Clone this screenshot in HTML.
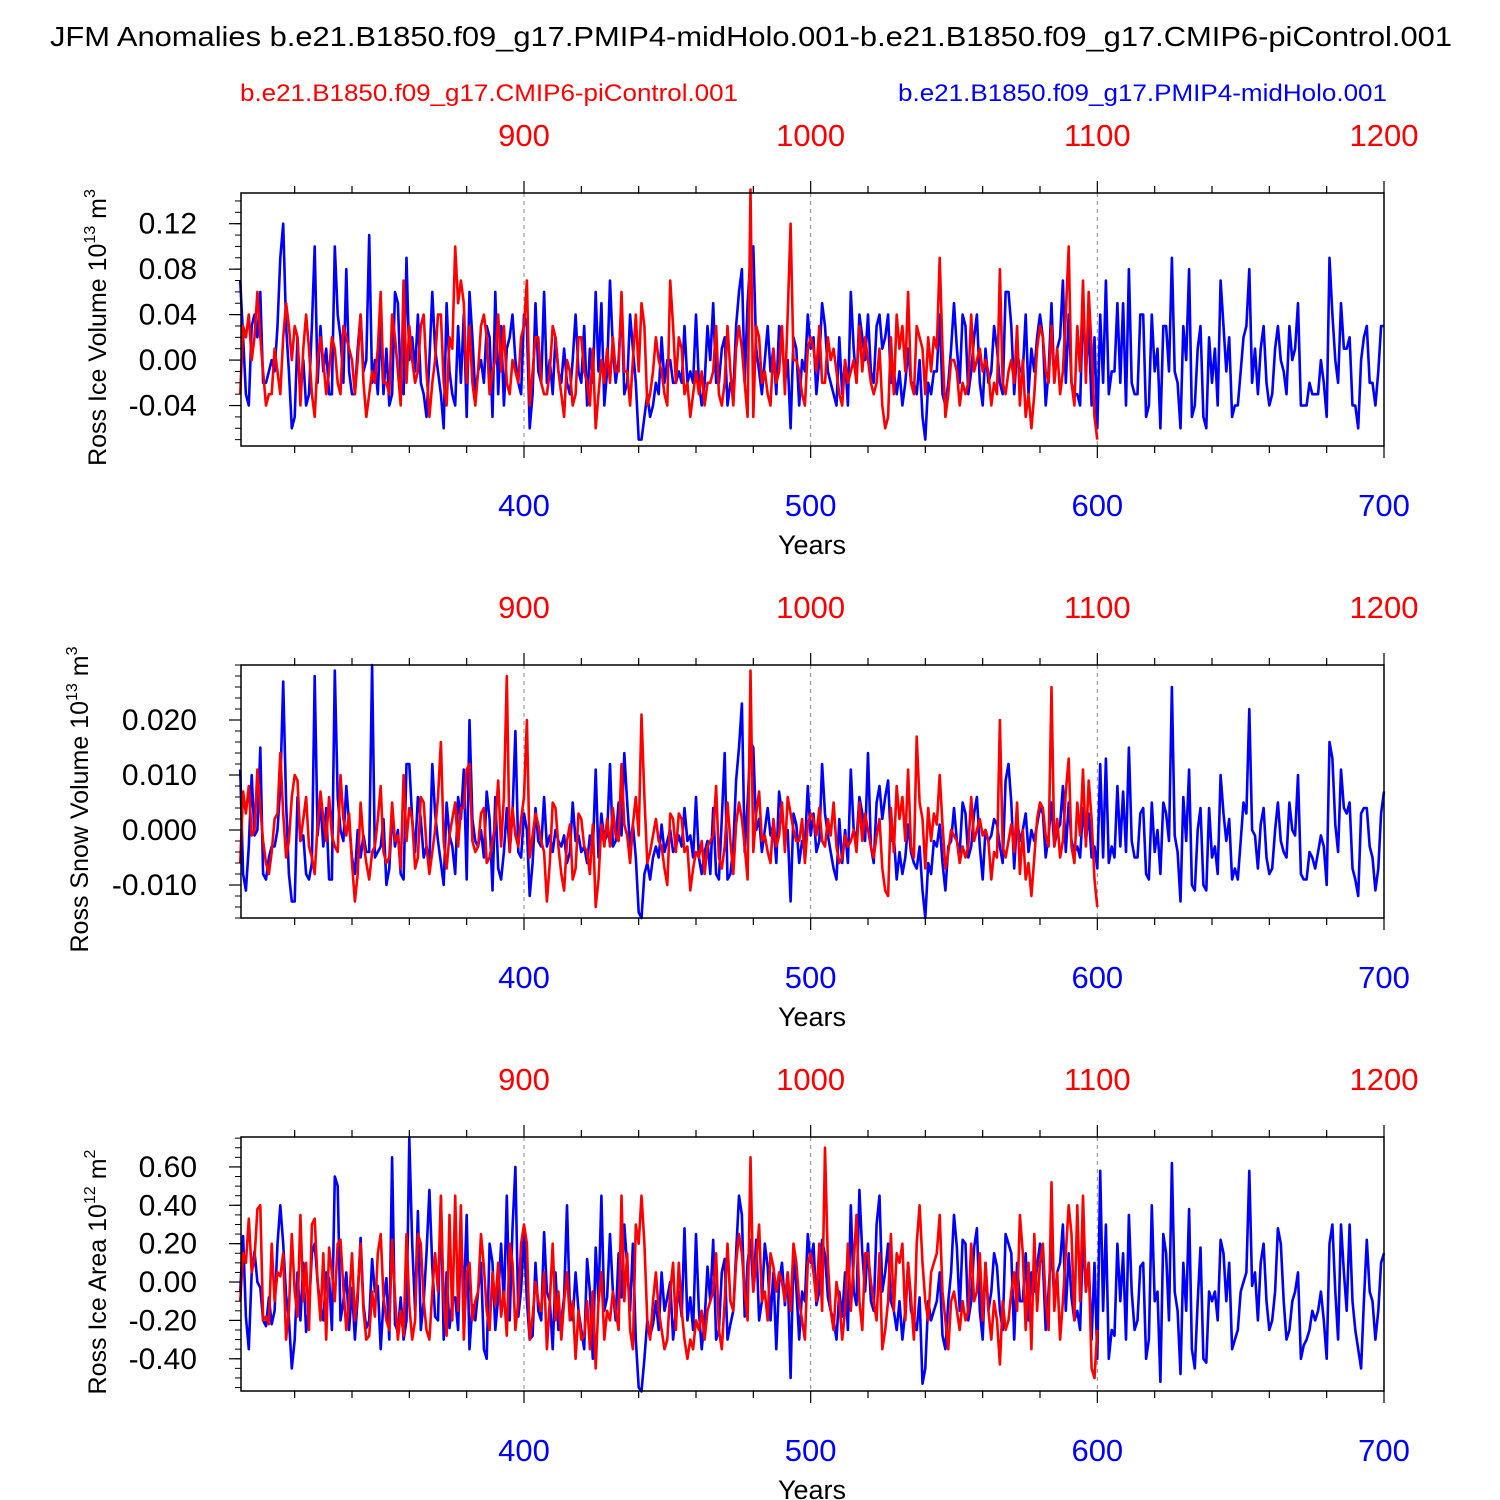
<!DOCTYPE html>
<html><head><meta charset="utf-8"><style>
html,body{margin:0;padding:0;background:#fff;}
svg{display:block;font-family:"Liberation Sans",Arial,sans-serif;}
</style></head><body>
<svg id="chart" width="1500" height="1500" viewBox="0 0 1500 1500" xmlns="http://www.w3.org/2000/svg">
<text x="50" y="46" font-size="28" textLength="1402" lengthAdjust="spacingAndGlyphs">JFM Anomalies b.e21.B1850.f09_g17.PMIP4-midHolo.001-b.e21.B1850.f09_g17.CMIP6-piControl.001</text>
<text x="240" y="101" font-size="24" fill="#ff0000" textLength="498" lengthAdjust="spacingAndGlyphs">b.e21.B1850.f09_g17.CMIP6-piControl.001</text>
<text x="898" y="101" font-size="24" fill="#0000ff" textLength="489" lengthAdjust="spacingAndGlyphs">b.e21.B1850.f09_g17.PMIP4-midHolo.001</text>
</svg>
<script>
// ---- data (year axes) ----
const blueYearStart = 301;
const redYearStart = 801;
const bottomTicks = [400, 500, 600, 700];
const topTicks = [900, 1000, 1100, 1200];

// Panel 1: Ross Ice Volume (units of 0.01 x 10^13 m^3)
const iceVolBlue = [7,2,-3,-4,3,4,2,6,-2,-2,-1,0,-1,3,9,12,3,-1,-6,-5,
2,-3,0,-4,-3,3,10,-2,3,-1,1,-3,-3,10,4,2,-2,8,-1,-3,
-3,1,4,-1,0,11,-2,0,-3,3,-3,1,-4,-3,6,5,-2,-3,9,0,
2,-1,4,-2,-3,-5,0,6,1,-1,-3,-6,5,-1,-3,-4,3,-2,4,-5,
6,2,-3,-1,0,-2,3,2,-5,6,-3,3,-4,1,2,4,0,-2,-3,4,
3,-6,-3,5,-1,-2,6,-2,0,-3,2,-1,-2,1,-2,-3,0,4,-1,-2,
3,-4,1,-2,6,-1,5,-4,-1,7,1,-2,0,5,-3,-2,4,1,-2,-7,
-7,-5,-3,-5,-4,-2,-3,2,-2,0,0,-2,-2,-1,-2,3,-2,-1,-2,4,
-2,-4,-2,3,0,5,-2,-2,1,2,-4,-2,-3,3,6,8,-2,5,9,10,
1,-1,-3,0,3,-1,1,-3,3,2,-2,0,-6,2,1,-4,0,-1,4,1,
2,-3,0,5,3,-1,-2,-3,-4,2,-3,0,-4,6,1,-2,4,2,0,4,
-1,-2,3,4,1,2,4,-2,-1,-3,-1,-4,-2,1,-2,-2,-3,0,-5,-7,
-2,-3,-1,-1,4,-3,-4,-2,1,5,1,-2,4,3,-3,-1,2,4,-2,-4,
1,-2,-1,3,1,-2,-3,6,6,3,-3,1,-1,-1,4,-3,1,-1,2,4,
2,-4,-1,5,-2,1,2,7,-2,4,-2,-3,-3,-4,5,-1,3,-4,2,-6,
4,-2,7,-3,-1,-1,5,-2,5,-4,8,-2,-3,-3,4,4,-5,-4,4,-1,
1,-6,3,3,-1,9,-1,-2,-6,3,0,8,-5,-4,1,3,-5,-6,2,-2,
1,-4,7,3,-1,2,-5,-4,-4,-1,2,3,8,-2,1,-3,1,3,-2,-4,
-3,1,3,0,-1,-3,3,0,1,5,-4,-4,-4,-2,-3,-3,-3,0,-2,-5,
9,4,0,-2,5,1,1,2,-4,-4,-6,0,2,3,-2,-2,-4,-1,3,3];
const iceVolRed = [-3,3,2,4,0,2,6,2,-1,-4,-3,-3,1,-1,-3,2,5,3,0,3,
2,-4,1,4,1,-3,-5,0,2,0,-3,-1,2,1,-2,-3,3,2,1,0,
-3,0,4,-2,-5,-3,-1,-2,1,6,-2,-2,-3,4,2,-1,-4,7,-2,3,
0,-2,-1,3,4,-1,-5,-2,0,4,4,-2,-4,2,1,10,5,7,5,-2,
3,-2,-4,-1,3,4,2,-3,-1,0,4,-1,3,-2,-3,0,-1,-2,2,3,
7,-4,-1,2,2,-2,-3,-3,-1,3,2,-1,-3,-5,0,-1,-4,-3,2,2,
-1,-2,-4,1,-6,-3,0,-2,1,-2,2,-1,-1,6,-1,-1,-4,0,4,-1,
5,3,-4,-3,-1,2,0,-1,-3,-4,7,3,-2,2,1,-3,-2,-5,-3,-1,
-3,-1,-4,-2,-2,-1,3,-3,-4,-2,3,-1,-4,1,3,1,-2,-5,15,-5,
3,2,-2,-1,-3,-4,1,-2,-1,3,-3,4,12,0,0,-1,-3,-4,1,2,
1,-1,3,-2,-2,2,0,1,-1,-3,-4,0,-2,-1,0,-2,3,-1,2,0,
-2,-3,-2,1,-4,-6,-5,2,-3,4,1,3,-1,6,-2,-3,3,2,1,-3,
2,-1,2,1,9,1,-5,-3,0,0,-1,-4,-2,-3,-2,4,-1,0,1,-1,
0,-1,-4,-2,-3,8,-2,-3,-1,0,-2,3,-4,0,-5,-3,-6,-3,1,3,
2,-1,-2,3,-2,1,-3,-1,4,10,-2,-4,3,-1,7,-2,6,1,-5,-7];

// Panel 2: Ross Snow Volume (units of 0.001 x 10^13 m^3)
const snowVolBlue = [11,-8,-11,-3,10,-1,0,15,-8,-9,-5,-3,-3,0,8,27,5,-8,-13,-13,
6,-2,-1,-8,-9,-6,28,-1,5,-3,4,-9,-9,29,6,0,-2,8,1,-5,
-8,0,-5,-1,-4,-4,30,-5,-4,-3,2,-10,-7,3,-3,0,-8,-9,12,12,
2,-4,6,2,-5,-3,-6,12,3,-2,-6,-10,5,-1,-3,-8,6,2,11,-9,
20,2,-2,-3,0,-5,7,2,-11,6,-7,-9,-4,4,-4,3,18,-4,-5,3,
0,-12,-6,4,-2,-3,6,-3,-1,-4,0,-2,-3,-1,-6,-4,5,-2,-1,-4,
-3,-6,-1,-4,11,-5,3,-2,-1,12,-3,-2,5,-1,14,5,-3,1,-5,-15,
-16,-8,-6,-9,-5,-3,-5,1,-4,-2,0,-4,-3,-1,-3,4,-2,-1,-5,6,
-5,-8,-4,-2,-8,4,-8,-9,2,14,-9,-8,-3,9,15,23,-4,5,16,15,
0,2,-4,0,4,-1,1,-6,7,3,-2,0,-13,3,1,-6,-2,-3,8,-1,
3,-4,-2,12,3,-1,-4,-7,-9,2,-6,0,-6,11,0,-2,6,3,-2,14,
-3,-6,5,8,2,6,9,-2,-1,-9,-4,-8,-5,1,-4,-6,-7,-3,-11,-16,
-6,-8,-2,-3,1,-6,-11,-3,-2,4,-2,-4,5,3,-5,-3,3,6,-3,-9,
0,-2,-1,2,1,-3,-6,9,12,5,-7,2,-2,0,3,-4,0,-2,1,4,
3,-5,-1,5,-3,0,1,8,-4,5,-2,-4,-3,-5,4,-2,3,-5,-3,-7,
12,-5,13,-6,-3,-5,8,-3,7,-4,15,-2,-5,-5,3,4,-8,-9,5,-4,
0,-8,5,3,-2,26,-1,-4,-13,6,-2,11,-10,-11,0,4,-10,-11,4,-5,
-3,-8,10,3,-2,2,-9,-7,-9,-2,5,3,22,0,-1,-7,1,4,-5,-8,
-7,0,5,-2,-4,-5,5,0,-1,10,-8,-9,-9,-4,-5,-7,-4,-1,-3,-10,
16,13,1,-4,11,4,3,5,-7,-9,-12,3,4,4,-3,-5,-11,-7,3,7];
const snowVolRed = [-6,7,3,8,-1,0,11,4,-2,-6,-8,-4,2,3,14,3,-5,-2,6,10,
9,-2,2,6,-3,-5,-8,1,7,2,-2,6,-1,-3,-4,10,2,-1,3,-6,
-13,-8,5,-2,-6,-9,-4,-3,2,8,-4,-6,-5,5,-2,-1,-7,10,-2,4,
2,-7,-5,6,5,-3,-8,-4,0,6,16,-2,-7,-1,2,5,-3,4,4,11,
12,-2,-4,-3,3,4,-6,-5,-2,1,9,-3,6,28,-4,4,-1,-3,2,6,
20,-5,-1,3,1,-2,-4,-13,-6,5,4,-3,-8,-11,-2,1,-9,-7,3,2,
-3,-4,-8,1,-14,-9,1,-3,2,-3,4,-1,-2,12,1,-1,-6,1,6,-1,
21,6,-6,-4,-1,2,-2,-3,-7,-10,3,2,-4,3,2,-4,-3,-11,-7,-4,
-5,-2,-8,-3,-2,-1,8,-5,-7,-3,5,-2,-8,1,5,2,-3,-9,29,-4,
3,7,-2,-1,-4,-6,2,-3,-1,5,-4,6,3,0,-2,-2,2,-6,1,3,
2,-1,4,-2,-3,2,-1,5,-3,-6,-5,-1,-3,-2,0,-4,5,-2,3,0,
-3,-5,-1,2,-7,-11,-12,4,-4,8,2,6,-2,11,-3,-5,17,5,2,-7,
4,-2,3,1,10,1,-7,-4,0,-1,-2,-6,-3,-5,-3,6,-2,0,2,-1,
0,-2,-9,-4,-5,20,-3,-5,-2,1,-4,5,-8,0,-9,-6,-12,-5,2,5,
4,-1,-3,26,-3,2,-5,-2,7,13,-3,-6,5,-1,11,-3,9,2,-9,-14];

// Panel 3: Ross Ice Area (units of 0.01 x 10^12 m^2)
const iceAreaBlue = [-5,24,-18,-35,5,16,0,-3,-20,-23,-8,-22,-15,20,40,20,-7,-19,-45,-30,
5,-20,10,-26,-14,15,20,0,-13,-20,5,2,-25,55,50,-20,-10,5,-25,-3,
-30,-8,23,-12,-24,-20,12,-5,-2,-35,-10,2,-30,65,-22,-26,-8,-30,-20,75,
20,-15,37,-25,-10,15,48,8,-18,-20,44,-30,5,-24,-10,-8,-25,25,-10,35,
-35,-12,-20,-5,10,-35,-40,20,10,-25,-8,20,-12,45,-20,28,60,-18,-4,25,
-10,-30,-28,10,-15,-20,26,-5,-10,-35,5,-25,-20,-8,40,-15,-20,5,-15,-25,
-35,12,-5,-40,18,-10,45,-15,-8,25,-5,-20,15,-8,30,8,-15,20,-30,-55,
-57,-40,-20,-28,-22,-10,-25,5,-15,-8,0,-30,-15,-5,-18,28,-20,-8,-25,25,
-15,-35,-20,8,-10,22,-30,-25,5,12,-30,-22,-15,15,45,35,-18,10,22,-5,
22,-20,-10,20,8,-20,5,-35,0,10,-12,5,-50,15,-3,-30,-5,-10,25,10,
20,-12,-5,22,14,-8,-15,-20,-30,-5,-18,5,-25,40,-5,-12,48,15,-5,20,
-10,-15,30,45,-5,5,20,-10,-15,-25,-10,-30,-15,10,-15,-20,-25,-8,-53,-45,
-10,-20,-15,-10,5,-28,-35,-10,5,35,18,-15,22,20,-20,-10,18,28,-15,-30,
10,-15,-5,15,8,-15,-25,25,20,15,-30,10,-10,-10,15,-20,5,-5,8,20,
10,-25,-5,20,-10,5,10,30,-15,15,-8,-20,-15,-25,25,-5,10,-30,10,-40,
58,-15,30,-40,-25,-28,20,-10,15,-30,35,-5,-25,-20,8,10,-40,-30,40,-10,
-5,-52,25,15,-20,62,-5,-15,-48,10,-15,38,-35,-45,-10,18,-40,-42,-5,-10,
-5,-20,22,15,-10,10,-35,-30,-25,-5,0,5,58,-2,5,-20,10,20,-10,-25,
-20,-5,28,20,-10,-30,-25,-10,-5,5,-40,-33,-30,-25,-15,-20,-15,-5,-20,-40,
20,30,-5,-30,30,5,-15,30,-10,-25,-35,-45,-10,22,-5,-10,-30,-15,10,15];
const iceAreaRed = [-10,15,10,33,5,12,38,40,-20,-18,-22,20,-10,5,3,15,-30,-15,25,-5,
-18,35,-10,10,-25,30,33,0,-20,15,-30,18,5,-10,20,22,-3,-25,-10,15,
-20,-5,20,-15,-30,-28,-5,-18,15,25,-8,-20,-25,22,-8,-30,-15,-28,25,-12,
-30,-20,25,20,-10,-25,-30,-5,15,-5,45,-10,-28,35,-20,45,-15,40,-30,5,
10,-20,-10,-5,25,8,-15,-25,5,-12,10,-18,-5,-28,20,10,-25,-10,20,30,
20,-30,-18,0,-10,-15,5,-35,-10,20,-20,-5,-30,-10,5,-20,-10,-40,-15,-30,
-28,-10,-35,-5,-45,-10,5,-30,-15,-20,-5,-15,-25,45,-10,15,-25,-35,30,20,
45,20,-20,-30,-10,5,-15,-25,-35,-30,-5,10,-25,10,-15,-30,-40,-30,-35,-20,
-25,-15,-30,-15,-10,-5,15,-25,-35,-10,20,-10,-15,10,25,15,-5,-20,65,-5,
10,30,-10,-5,-20,15,8,-5,5,0,-10,5,-15,20,10,-10,-20,-30,10,15,
5,-10,20,-15,70,10,-15,-25,0,-10,-30,-15,20,-15,10,35,-10,-25,15,15,
0,-10,-20,15,-35,-25,-10,25,-15,15,10,20,-20,10,-8,-30,20,40,10,-10,
-20,5,10,15,35,-5,-20,-35,-10,-5,-15,-25,-10,-20,-15,20,-10,-5,15,-20,
10,-15,-30,-10,-20,-43,-10,-25,-20,-5,5,-15,35,15,-25,10,-35,25,-15,10,
20,-10,-25,52,-15,5,-30,-10,15,40,25,-20,40,-10,45,-5,10,-45,-50,-25];

const tickLabels1 = ["0.12","0.08","0.04","0.00","-0.04"];
const tickValues1 = [0.12,0.08,0.04,0.00,-0.04];
const tickLabels2 = ["0.020","0.010","0.000","-0.010"];
const tickValues2 = [0.02,0.01,0.0,-0.01];
const tickLabels3 = ["0.60","0.40","0.20","0.00","-0.20","-0.40"];
const tickValues3 = [0.6,0.4,0.2,0,-0.2,-0.4];

// ---- rendering ----
const NS = "http://www.w3.org/2000/svg";
const svg = document.getElementById('chart');
const X0 = 241, X1 = 1384;
const pxPerYear = (1384 - 524) / 300;
function xBlue(y){ return 524 + (y - 400) * pxPerYear; }
function xRed(y){ return 524 + (y - 900) * pxPerYear; }
function mk(tag, attrs, parent){ const e = document.createElementNS(NS, tag); for (const k in attrs) e.setAttribute(k, attrs[k]); (parent||svg).appendChild(e); return e; }

const panels = [
 {top:193,bot:446,vmin:-0.0756,vmax:0.147,blue:iceVolBlue,red:iceVolRed,scale:0.01,labels:tickLabels1,vals:tickValues1,minor:0.01,title:'Ross Ice Volume 10',sup:'13',unit:' m',usup:'3',tx:106,name:'ice-volume'},
 {top:665,bot:918,vmin:-0.016,vmax:0.030,blue:snowVolBlue,red:snowVolRed,scale:0.001,labels:tickLabels2,vals:tickValues2,minor:0.002,title:'Ross Snow Volume 10',sup:'13',unit:' m',usup:'3',tx:88,name:'snow-volume'},
 {top:1137,bot:1391,vmin:-0.568,vmax:0.756,blue:iceAreaBlue,red:iceAreaRed,scale:0.01,labels:tickLabels3,vals:tickValues3,minor:0.05,title:'Ross Ice Area 10',sup:'12',unit:' m',usup:'2',tx:106,name:'ice-area'}
];

panels.forEach((p) => {
  const g = mk('g', {});
  
  
  const yS = v => p.bot - (v - p.vmin) / (p.vmax - p.vmin) * (p.bot - p.top);
  topTicks.slice(0,3).forEach(t => {
    const l = mk('line', {x1:xRed(t), x2:xRed(t), y1:p.top, y2:p.bot, stroke:'#888', 'stroke-width':1, 'stroke-dasharray':'4,4'}, g);
    
    
  });
  const ptsB = p.blue.map((v,i) => xBlue(blueYearStart+i).toFixed(1)+','+yS(v*p.scale).toFixed(1)).join(' ');
  const lb = mk('polyline', {points:ptsB, fill:'none', stroke:'#0000ff', 'stroke-width':2.6, 'stroke-linejoin':'round'}, g);
  
  
  const ptsR = p.red.map((v,i) => xRed(redYearStart+i).toFixed(1)+','+yS(v*p.scale).toFixed(1)).join(' ');
  const lr = mk('polyline', {points:ptsR, fill:'none', stroke:'#ff0000', 'stroke-width':2.6, 'stroke-linejoin':'round'}, g);
  
  
  const fr = mk('rect', {x:X0, y:p.top, width:X1-X0, height:p.bot-p.top, fill:'none', stroke:'#000', 'stroke-width':1.5}, g);
  
  
  for (let y = 320; y <= 700; y += 20) {
    const x = xBlue(y), major = y % 100 === 0;
    mk('line', {x1:x, x2:x, y1:p.bot, y2:p.bot + (major?12:7), stroke:'#000', 'stroke-width':1.2}, g);
  }
  for (let y = 820; y <= 1200; y += 20) {
    const x = xRed(y), major = y % 100 === 0;
    mk('line', {x1:x, x2:x, y1:p.top, y2:p.top - (major?12:7), stroke:'#000', 'stroke-width':1.2}, g);
  }
  bottomTicks.forEach(t => {
    const tl = mk('text', {x:xBlue(t), y:p.bot+70, 'font-size':31, fill:'#0000ff', 'text-anchor':'middle'}, g);
    tl.textContent = t;
    
    
  });
  topTicks.forEach(t => {
    const tl = mk('text', {x:xRed(t), y:p.top-47, 'font-size':31, fill:'#ff0000', 'text-anchor':'middle'}, g);
    tl.textContent = t;
    
    
  });
  const xt = mk('text', {x:812, y:p.bot+108, 'font-size':27, 'text-anchor':'middle'}, g);
  xt.textContent = 'Years';
  
  
  const step = p.minor;
  for (let k = Math.ceil(p.vmin/step); k*step <= p.vmax; k++) {
    const yy = yS(k*step);
    mk('line', {x1:X0-6, x2:X0, y1:yy, y2:yy, stroke:'#000', 'stroke-width':1}, g);
  }
  p.vals.forEach((v, i) => {
    const yy = yS(v);
    mk('line', {x1:X0-12, x2:X0, y1:yy, y2:yy, stroke:'#000', 'stroke-width':1.2}, g);
    const tl = mk('text', {x:197, y:yy+10, 'font-size':30, 'text-anchor':'end'}, g);
    tl.textContent = p.labels[i];
    
    
  });
  const cy = (p.top + p.bot) / 2 + 8;
  const yt = mk('text', {x:0, y:0, 'font-size':25, 'text-anchor':'middle', transform:`translate(${p.tx},${cy}) rotate(-90)`}, g);
  
  
  yt.appendChild(document.createTextNode(p.title));
  const s1 = mk('tspan', {'font-size':16, dy:-11}, yt); s1.textContent = p.sup;
  const s2 = mk('tspan', {dy:11}, yt); s2.textContent = p.unit;
  const s3 = mk('tspan', {'font-size':16, dy:-11}, yt); s3.textContent = p.usup;
});
</script>
</body></html>
